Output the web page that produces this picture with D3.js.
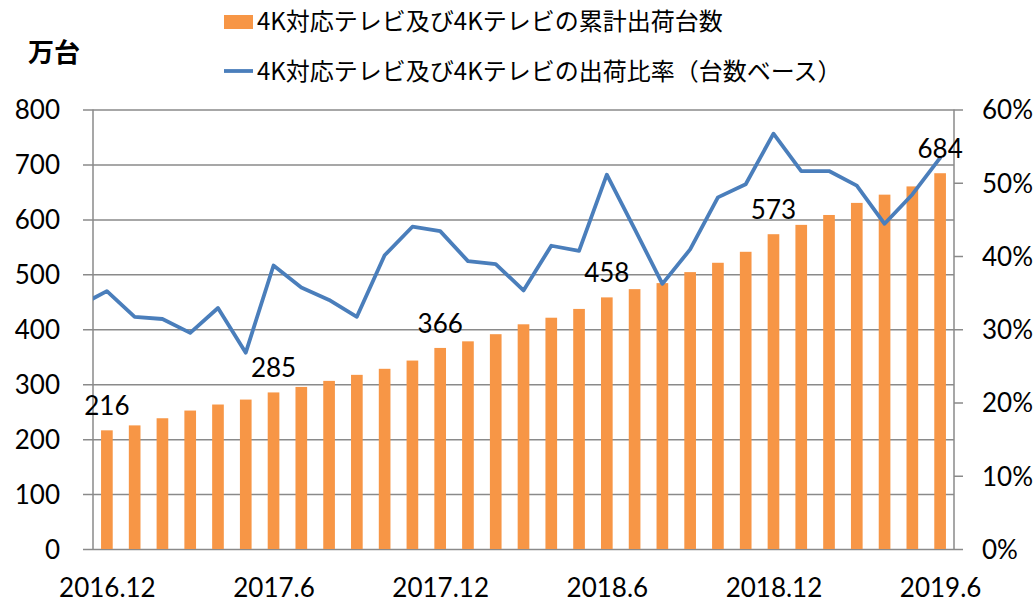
<!DOCTYPE html>
<html lang="ja">
<head>
<meta charset="utf-8">
<script src="https://cdn.jsdelivr.net/npm/d3@7"></script>
<style>
  html, body { margin: 0; padding: 0; background: #fff; }
  svg { display: block; }
  .num { font-family: Lato, "Liberation Sans", sans-serif; font-size: 26px; fill: #000; }
  .jp { font-family: "Noto Sans CJK JP", sans-serif; fill: #000; }
</style>
</head>
<body>
<svg id="chart" width="1034" height="603"></svg>
<script>
// Months on the category axis
const months = [
  "2016.12","2017.1","2017.2","2017.3","2017.4","2017.5","2017.6","2017.7","2017.8","2017.9","2017.10","2017.11",
  "2017.12","2018.1","2018.2","2018.3","2018.4","2018.5","2018.6","2018.7","2018.8","2018.9","2018.10","2018.11",
  "2018.12","2019.1","2019.2","2019.3","2019.4","2019.5","2019.6"
];
// Cumulative shipments of 4K-capable / 4K TVs (万台)
const cumulative = [
  216, 225, 238, 252, 263, 272, 285, 295, 306, 317, 328, 343,
  366, 378, 391, 409, 421, 437, 458, 473, 484, 504, 521, 541,
  573, 590, 608, 630, 645, 660, 684
];
// Shipment ratio (unit basis, %), series begins one month before the first bar (2016.11)
const ratioMonths = ["2016.11"].concat(months);
const ratio = [
  33.2, 35.2, 31.7, 31.4, 29.5, 32.9, 26.8, 38.7, 35.7, 34.0, 31.7, 40.1, 44.0,
  43.4, 39.3, 38.9, 35.3, 41.4, 40.7, 51.1, 43.7, 36.2, 40.9, 48.0, 49.8,
  56.7, 51.6, 51.6, 49.6, 44.4, 48.4, 53.4
];
// Months whose bar carries a value label
const labeledMonths = ["2016.12","2017.6","2017.12","2018.6","2018.12","2019.6"];
// Tick labels
const xTickMonths = ["2016.12","2017.6","2017.12","2018.6","2018.12","2019.6"];
const leftTicks = [0,100,200,300,400,500,600,700,800];
const rightTicks = [0,10,20,30,40,50,60];

const legendBars = "4K対応テレビ及び4Kテレビの累計出荷台数";
const legendLine = "4K対応テレビ及び4Kテレビの出荷比率（台数ベース）";
const unitLabel = "万台";

const barColor = "#F79646";
const lineColor = "#4A7EBB";
const gridColor = "#8A8A8A";

const plot = { left: 93, right: 954, top: 109.5, bottom: 549 };
const svg = d3.select("#chart");

// Scales: category index → x, values → y
const monthIndex = m => months.indexOf(m) >= 0 ? months.indexOf(m) : ratioMonths.indexOf(m) - 1;
const x = d3.scaleLinear().domain([-0.5, months.length - 0.5]).range([plot.left, plot.right]);
const step = x(1) - x(0);
const yL = d3.scaleLinear().domain([0, 800]).range([plot.bottom, plot.top]);
const yR = d3.scaleLinear().domain([0, 60]).range([plot.bottom, plot.top]);

// Horizontal gridlines with outward ticks on the left
const gridAxis = d3.axisLeft(yL).tickValues(leftTicks)
  .tickSize(-(plot.right - plot.left)).tickFormat("");
const gridG = svg.append("g").attr("transform", `translate(${plot.left},0)`).call(gridAxis);
gridG.select(".domain").remove();
gridG.selectAll(".tick line").attr("stroke", gridColor).attr("stroke-width", 1.5).attr("x2", plot.right - plot.left).attr("x1", -10);

// Bars
svg.append("g").selectAll("rect").data(cumulative).join("rect")
  .attr("x", (d, i) => x(i) - step * 0.21)
  .attr("width", step * 0.42)
  .attr("y", d => yL(d))
  .attr("height", d => yL(0) - yL(d))
  .attr("fill", barColor);

// Left axis line
svg.append("line").attr("x1", plot.left).attr("x2", plot.left)
  .attr("y1", plot.top).attr("y2", plot.bottom)
  .attr("stroke", gridColor).attr("stroke-width", 1.5);

// Left tick labels
const leftAxis = d3.axisLeft(yL).tickValues(leftTicks).tickSize(0).tickPadding(0);
const leftG = svg.append("g").attr("transform", `translate(60,0)`).call(leftAxis);
leftG.select(".domain").remove();
leftG.selectAll("text").attr("class", "num").attr("dy", "0.36em").attr("fill", null);

// Right axis with outward ticks
const rightAxis = d3.axisRight(yR).tickValues(rightTicks).tickSize(9).tickPadding(19)
  .tickFormat(d => d + "%");
const rightG = svg.append("g").attr("transform", `translate(${plot.right},0)`).call(rightAxis);
rightG.select(".domain").attr("stroke", gridColor).attr("stroke-width", 1.5)
  .attr("d", `M0,${plot.top}V${plot.bottom}`);
rightG.selectAll(".tick line").attr("stroke", gridColor).attr("stroke-width", 1.5);
rightG.selectAll("text").attr("class", "num").attr("dy", "0.36em").attr("fill", null);

// Bottom category labels
const xAxis = d3.axisBottom(x).tickValues(xTickMonths.map(monthIndex))
  .tickSize(0).tickPadding(0).tickFormat(i => months[i]);
const xG = svg.append("g").attr("transform", `translate(0,597)`).call(xAxis);
xG.select(".domain").remove();
xG.selectAll("text").attr("class", "num").attr("dy", 0).attr("fill", null);

// Ratio line, clipped to the plot area
svg.append("clipPath").attr("id", "plotClip").append("rect")
  .attr("x", plot.left).attr("y", 0)
  .attr("width", plot.right - plot.left).attr("height", plot.bottom);
const line = d3.line()
  .x((d, i) => x(monthIndex(ratioMonths[i])))
  .y(d => yR(d));
svg.append("path").datum(ratio)
  .attr("clip-path", "url(#plotClip)")
  .attr("d", line)
  .attr("fill", "none")
  .attr("stroke", lineColor)
  .attr("stroke-width", 3.8)
  .attr("stroke-linejoin", "round")
  .attr("stroke-linecap", "round");

// Value labels above selected bars
svg.append("g").selectAll("text").data(labeledMonths).join("text")
  .attr("class", "num")
  .attr("text-anchor", "middle")
  .attr("x", m => x(monthIndex(m)))
  .attr("y", m => yL(cumulative[monthIndex(m)]) - 15)
  .text(m => cumulative[monthIndex(m)]);

// Unit label
svg.append("text").attr("class", "jp")
  .attr("x", 28).attr("y", 62)
  .attr("font-size", 26).attr("font-weight", 700)
  .text(unitLabel);

// Legend
const lg = svg.append("g");
lg.append("rect").attr("x", 224).attr("y", 15).attr("width", 29).attr("height", 14).attr("fill", barColor);
lg.append("text").attr("class", "jp").attr("x", 257).attr("y", 22)
  .attr("dy", "0.35em").attr("font-size", 24).text(legendBars);
lg.append("line").attr("x1", 224).attr("x2", 253).attr("y1", 71).attr("y2", 71)
  .attr("stroke", lineColor).attr("stroke-width", 3.8);
lg.append("text").attr("class", "jp").attr("x", 257).attr("y", 72)
  .attr("dy", "0.35em").attr("font-size", 24).text(legendLine);
</script>
</body>
</html>
